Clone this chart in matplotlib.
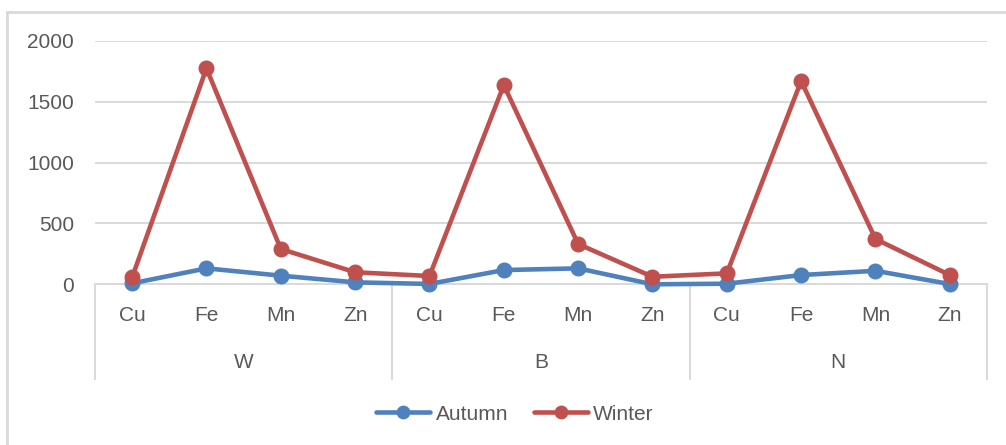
import matplotlib.pyplot as plt
import matplotlib.transforms as mtransforms
from matplotlib.lines import Line2D

# two-level category axis: site groups, each with four metals
sites = ["W", "B", "N"]
metals = ["Cu", "Fe", "Mn", "Zn"]

autumn = [8, 131, 71, 16, 3, 117, 131, 0, 5, 76, 111, 2]
winter = [57, 1773, 290, 99, 68, 1636, 331, 62, 90, 1669, 372, 76]

y_ticks = [0, 500, 1000, 1500, 2000]

BLUE = "#4F81BD"
RED = "#C0504D"
GRID = "#D9D9D9"
TEXT = "#595959"

plt.rcParams["font.family"] = ["Liberation Sans", "DejaVu Sans"]

fig = plt.figure(figsize=(10.06, 4.45), dpi=100)
ax = fig.add_axes([0.0944, 0.3611, 0.8867, 0.5474])

x = list(range(len(autumn)))
style = dict(linewidth=3.3, marker="o", markersize=10.5, clip_on=False,
             solid_joinstyle="round", solid_capstyle="round")
ax.plot(x, autumn, color=BLUE, label="Autumn", zorder=3, **style)
ax.plot(x, winter, color=RED, label="Winter", zorder=4, **style)

ax.set_xlim(-0.5, len(x) - 0.5)
ax.set_ylim(0, 2000)
ax.set_yticks(y_ticks)
ax.set_yticklabels([str(v) for v in y_ticks], fontsize=15, color=TEXT)
ax.tick_params(axis="y", length=0, pad=15)
ax.set_xticks([])
ax.yaxis.grid(True, color=GRID, linewidth=1.4)
ax.set_axisbelow(True)
for side in ["top", "right", "left"]:
    ax.spines[side].set_visible(False)
ax.spines["bottom"].set_color(GRID)
ax.spines["bottom"].set_linewidth(1.4)

# category labels and group separators below the axis
trans = mtransforms.blended_transform_factory(ax.transData, ax.transAxes)
for i, site in enumerate(sites):
    for j, metal in enumerate(metals):
        ax.text(i * len(metals) + j, -0.13, metal, transform=trans,
                ha="center", va="center", fontsize=15, color=TEXT)
    center = i * len(metals) + (len(metals) - 1) / 2
    ax.text(center, -0.319, site, transform=trans,
            ha="center", va="center", fontsize=15, color=TEXT)
for k in range(len(sites) + 1):
    xb = k * len(metals) - 0.5
    ax.plot([xb, xb], [0, -0.389], transform=trans, color=GRID,
            linewidth=1.4, clip_on=False)

# outer chart border (left and top edges)
fig.add_artist(Line2D([7 / 1006, 7 / 1006], [0, 1 - 12 / 445],
                      transform=fig.transFigure, color=GRID, linewidth=2))
fig.add_artist(Line2D([7 / 1006, 1], [1 - 12 / 445, 1 - 12 / 445],
                      transform=fig.transFigure, color=GRID, linewidth=2))

leg = fig.legend(loc="center", bbox_to_anchor=(515 / 1006, 1 - 414 / 445),
                 ncol=2, frameon=False, fontsize=15, handlelength=2.6,
                 handletextpad=0.25, columnspacing=1.25, markerscale=0.85)
for t in leg.get_texts():
    t.set_color(TEXT)

fig.savefig("out.png", dpi=100, facecolor="white")
